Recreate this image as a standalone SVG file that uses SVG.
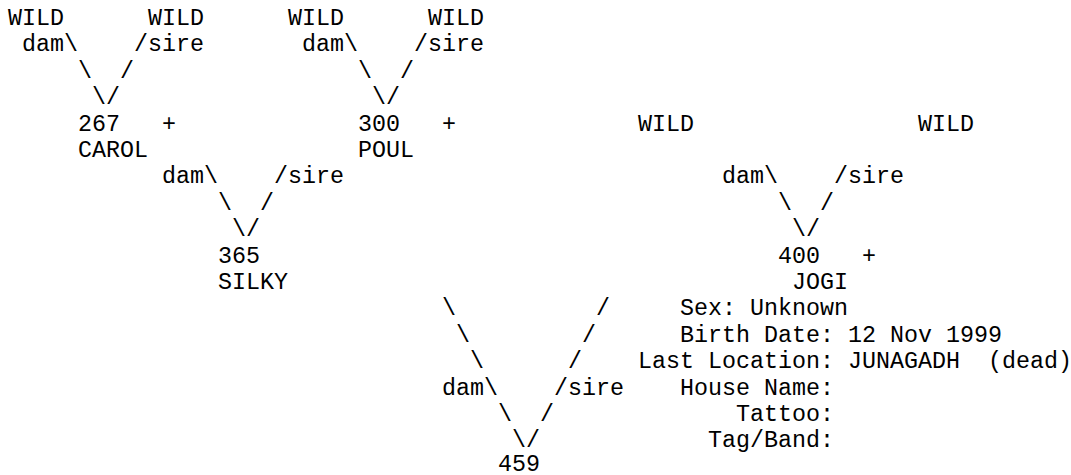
<svg xmlns="http://www.w3.org/2000/svg" width="1071" height="475" viewBox="0 0 1071 475">
<style>
text { font-family: "Liberation Mono", "Courier New", monospace; font-size: 23.33px; fill: #000; }
</style>
<rect width="1071" height="475" fill="#fff"/>
<g id="connectors">
  <text x="22" y="51.4">dam\</text><text x="134" y="51.4">/sire</text>
  <text x="78" y="77.8">\</text><text x="120" y="77.8">/</text>
  <text x="92" y="104.2">\/</text>
  <text x="302" y="51.4">dam\</text><text x="414" y="51.4">/sire</text>
  <text x="358" y="77.8">\</text><text x="400" y="77.8">/</text>
  <text x="372" y="104.2">\/</text>
  <text x="162" y="183.4">dam\</text><text x="274" y="183.4">/sire</text>
  <text x="218" y="209.8">\</text><text x="260" y="209.8">/</text>
  <text x="232" y="236.2">\/</text>
  <text x="722" y="183.4">dam\</text><text x="834" y="183.4">/sire</text>
  <text x="778" y="209.8">\</text><text x="820" y="209.8">/</text>
  <text x="792" y="236.2">\/</text>
  <text x="442" y="315.4">\</text><text x="596" y="315.4">/</text>
  <text x="456" y="341.8">\</text><text x="582" y="341.8">/</text>
  <text x="470" y="368.2">\</text><text x="568" y="368.2">/</text>
  <text x="442" y="394.6">dam\</text><text x="554" y="394.6">/sire</text>
  <text x="498" y="421">\</text><text x="540" y="421">/</text>
  <text x="512" y="447.4">\/</text>
</g>
<g id="wild1"><text x="8" y="25">WILD</text></g>
<g id="wild2"><text x="148" y="25">WILD</text></g>
<g id="wild3"><text x="288" y="25">WILD</text></g>
<g id="wild4"><text x="428" y="25">WILD</text></g>
<g id="n267"><text x="78" y="130.6">267</text><text x="162" y="130.6">+</text><text x="78" y="157">CAROL</text></g>
<g id="n300"><text x="358" y="130.6">300</text><text x="442" y="130.6">+</text><text x="358" y="157">POUL</text></g>
<g id="wild5"><text x="638" y="130.6">WILD</text></g>
<g id="wild6"><text x="918" y="130.6">WILD</text></g>
<g id="n365"><text x="218" y="262.6">365</text><text x="218" y="289">SILKY</text></g>
<g id="n400"><text x="778" y="262.6">400</text><text x="862" y="262.6">+</text><text x="792" y="289">JOGI</text></g>
<g id="n459">
  <text x="498" y="471">459</text>
  <text x="680" y="315.4">Sex: Unknown</text>
  <text x="680" y="341.8">Birth Date: 12 Nov 1999</text>
  <text x="638" y="368.2" xml:space="preserve">Last Location: JUNAGADH  (dead)</text>
  <text x="680" y="394.6">House Name:</text>
  <text x="736" y="421">Tattoo:</text>
  <text x="708" y="447.4">Tag/Band:</text>
</g>
</svg>
